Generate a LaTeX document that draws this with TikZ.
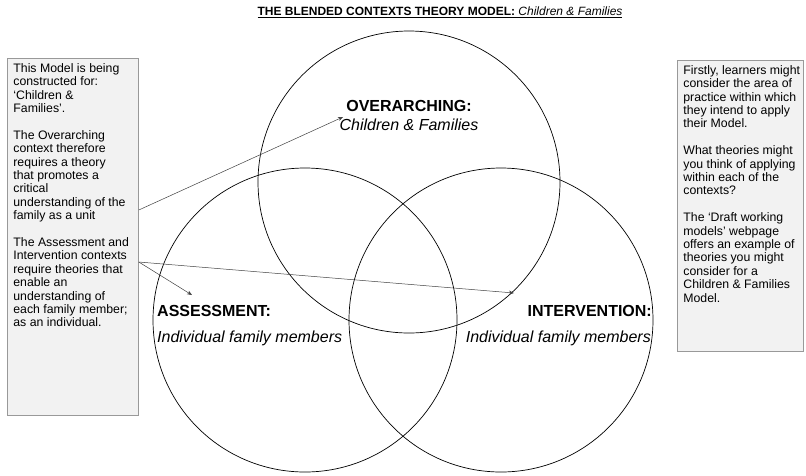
\documentclass[tikz,border=0pt]{standalone}
\usepackage{fontspec}
\setmainfont{Liberation Sans}
\usepackage{tikz}
\usetikzlibrary{arrows.meta,positioning,calc}

\newcommand\boxfont{\fontsize{12.3}{13.4}\selectfont}
\newcommand\labelfont{\fontsize{16}{19}\selectfont}
\newcommand\titlefont{\fontsize{12}{14}\selectfont}

\begin{document}
\begin{tikzpicture}[x=1pt, y=-1pt,
	infobox/.style={draw=gray!80, fill=black!5, line width=0.8pt, inner xsep=6pt, inner ysep=5pt, anchor=north west, font=\boxfont},
	ctxcircle/.style={circle, draw=black, line width=0.7pt, inner sep=0pt},
	ctxhead/.style={font=\labelfont\bfseries, inner sep=0pt},
	ctxsub/.style={font=\labelfont\itshape, inner sep=0pt},
	pointer/.style={-{Stealth[length=5pt,width=4pt]}, draw=black!75, line width=0.5pt}]
	\useasboundingbox (0,0) rectangle (806,475);
	% title
	\node[font=\titlefont] (title) at (440,12) {\underline{\textbf{THE BLENDED CONTEXTS THEORY MODEL:} \textit{Children \& Families}}};
	% the three contexts
	\node[ctxcircle, minimum size=302pt] (overCirc)   at (409,182) {};
	\node[ctxcircle, minimum size=304pt] (assessCirc) at (305,320) {};
	\node[ctxcircle, minimum size=304pt] (interCirc)  at (501,320) {};
	\node[ctxhead]              (overHead)   at (409,106) {OVERARCHING:};
	\node[ctxsub]               (overSub)    at (409,125) {Children \& Families};
	\node[ctxhead, anchor=west] (assessHead) at (157,311) {ASSESSMENT:};
	\node[ctxsub, anchor=west]  (assessSub)  at (157,338) {Individual family members};
	\node[ctxhead, anchor=east] (interHead)  at (652,311) {INTERVENTION:};
	\node[ctxsub, anchor=east]  (interSub)   at (651,338) {Individual family members};
	% side notes
	\node[infobox] (leftBox) at (7,58) {\parbox[t][347pt][t]{119pt}{\raggedright
		This Model is being\\
		constructed for:\\
		`Children \&\\
		Families'.\\[13.4pt]
		The Overarching\\
		context therefore\\
		requires a theory\\
		that promotes a\\
		critical\\
		understanding of the\\
		family as a unit\\[13.4pt]
		The Assessment and\\
		Intervention contexts\\
		require theories that\\
		enable an\\
		understanding of\\
		each family member;\\
		as an individual.}};
	\node[infobox] (rightBox) at (677,60) {\parbox[t][281pt][t]{114pt}{\raggedright
		\mbox{Firstly, learners might}\\
		consider the area of\\
		practice within which\\
		they intend to apply\\
		their Model.\\[13.4pt]
		What theories might\\
		you think of applying\\
		within each of the\\
		contexts?\\[13.4pt]
		The `Draft working\\
		models' webpage\\
		\mbox{offers an example of}\\
		theories you might\\
		consider for a\\
		Children \& Families\\
		Model.}};
	% pointers
	\coordinate (overTip)   at (343,117);
	\coordinate (assessTip) at (192,295);
	\coordinate (interTip)  at (514,293);
	\draw[pointer] (leftBox.east |- 0,210) -- (overTip);
	\draw[pointer] (leftBox.east |- 0,262) -- (assessTip);
	\draw[pointer] (leftBox.east |- 0,262) -- (interTip);
\end{tikzpicture}
\end{document}
